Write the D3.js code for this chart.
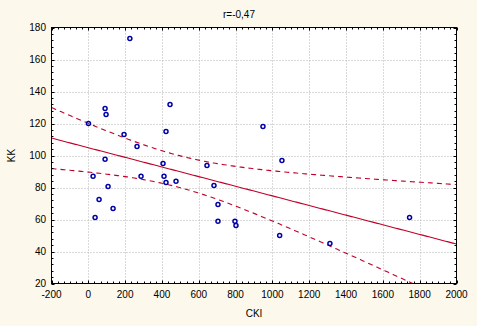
<!DOCTYPE html>
<html><head><meta charset="utf-8">
<script src="https://cdn.jsdelivr.net/npm/d3@7"></script>
<style>html,body{margin:0;padding:0;background:#fcf8ec;}svg{display:block;}</style>
</head><body>
<script>
const titleText = "r=-0,47";
const xLabel = "CKI";
const yLabel = "KK";
const xTicks = [-200,0,200,400,600,800,1000,1200,1400,1600,1800,2000];
const yTicks = [20,40,60,80,100,120,140,160,180];
const cki = [225.6,91,96.4,443.8,0.8,194,422,264.6,91,405.8,25.8,286.3,411.2,422,476.3,107.3,58.4,134.4,36.7,644.6,1051.7,682.6,704.3,704.3,796.6,802,1039.4,1312.3,948.7,1745];
const kk  = [173.1,129.4,125.6,131.9,120,113.1,115,105.6,97.7,95,87.1,87.1,87.1,83.1,83.9,80.6,72.5,66.9,61.25,93.75,96.9,81.25,69.4,58.9,58.9,56.25,50,45,118.1,61.25];

const W = 477, H = 326;
const L = 51.5, R = 456.5, T = 27.5, B = 283.5;
const svg = d3.select("body").append("svg").attr("width", W).attr("height", H);
svg.append("rect").attr("width", W).attr("height", H).attr("fill", "#fcf8ec");

const x = d3.scaleLinear().domain([-200, 2000]).range([L, R]);
const y = d3.scaleLinear().domain([20, 180]).range([B, T]);

svg.append("rect").attr("x", L).attr("y", T).attr("width", R - L).attr("height", B - T).attr("fill", "#fff");

// grid
const grid = svg.append("g").attr("stroke", "#b4b4b4").attr("stroke-dasharray", "1,2").attr("stroke-width", 1);
xTicks.slice(1, -1).forEach(v => grid.append("line").attr("x1", Math.round(x(v)) + 0.5).attr("x2", Math.round(x(v)) + 0.5).attr("y1", T).attr("y2", B));
yTicks.slice(1, -1).forEach(v => grid.append("line").attr("y1", Math.round(y(v)) + 0.5).attr("y2", Math.round(y(v)) + 0.5).attr("x1", L).attr("x2", R));

// regression + 95% CI
const n = cki.length;
const mx = d3.mean(cki), my = d3.mean(kk);
let sxx = 0, sxy = 0;
for (let i = 0; i < n; i++) { sxx += (cki[i] - mx) ** 2; sxy += (cki[i] - mx) * (kk[i] - my); }
const b = sxy / sxx, a = my - b * mx;
let sse = 0;
for (let i = 0; i < n; i++) sse += (kk[i] - a - b * cki[i]) ** 2;
const s = Math.sqrt(sse / (n - 2));
const tcrit = 2.048;
const xs = d3.range(-200, 2000.1, 10);
const fit = v => a + b * v;
const hw = v => tcrit * s * Math.sqrt(1 / n + (v - mx) ** 2 / sxx);

svg.append("clipPath").attr("id", "clip").append("rect").attr("x", L).attr("y", T).attr("width", R - L).attr("height", B - T);
const lines = svg.append("g").attr("clip-path", "url(#clip)").attr("fill", "none").attr("stroke", "#c00028").attr("stroke-width", 1.1);
const lg = f => d3.line().x(v => x(v)).y(v => y(f(v)))(xs);
lines.append("path").attr("d", lg(fit));
lines.append("path").attr("d", lg(v => fit(v) + hw(v))).attr("stroke-dasharray", "5,4");
lines.append("path").attr("d", lg(v => fit(v) - hw(v))).attr("stroke-dasharray", "5,4");

// points
svg.append("g").selectAll("circle").data(cki).join("circle")
  .attr("cx", (d, i) => x(d)).attr("cy", (d, i) => y(kk[i])).attr("r", 2)
  .attr("fill", "none").attr("stroke", "#0000a8").attr("stroke-width", 1.5);

// frame
svg.append("rect").attr("x", L).attr("y", T).attr("width", R - L).attr("height", B - T).attr("fill", "none").attr("stroke", "#000");

// ticks (inward)
const tk = svg.append("g").attr("stroke", "#000").attr("stroke-width", 1);
const xMinor = [];
for (let i = 0; i < xTicks.length - 1; i++) for (let j = 1; j < 6; j++) xMinor.push(xTicks[i] + j * (xTicks[i + 1] - xTicks[i]) / 6);
const yMinor = [];
for (let i = 0; i < yTicks.length - 1; i++) for (let j = 1; j < 5; j++) yMinor.push(yTicks[i] + j * (yTicks[i + 1] - yTicks[i]) / 5);
const xt = (v, len) => {
  const px = Math.round(x(v)) + 0.5;
  tk.append("line").attr("x1", px).attr("x2", px).attr("y1", B).attr("y2", B - len);
  tk.append("line").attr("x1", px).attr("x2", px).attr("y1", T).attr("y2", T + len);
};
const yt = (v, len) => {
  const py = Math.round(y(v)) + 0.5;
  tk.append("line").attr("y1", py).attr("y2", py).attr("x1", L).attr("x2", L + len);
  tk.append("line").attr("y1", py).attr("y2", py).attr("x1", R).attr("x2", R - len);
};
xMinor.forEach(v => xt(v, 2)); xTicks.forEach(v => xt(v, 3));
yMinor.forEach(v => yt(v, 2)); yTicks.forEach(v => yt(v, 3));

// labels
const font = "'Liberation Sans', Arial, sans-serif";
const tx = svg.append("g").attr("font-family", font).attr("font-size", "10px").attr("fill", "#000");
xTicks.forEach(v => tx.append("text").attr("x", x(v)).attr("y", B + 14.5).attr("text-anchor", "middle").text(v));
yTicks.forEach(v => tx.append("text").attr("x", L - 5.5).attr("y", y(v) + 3.5).attr("text-anchor", "end").text(v));
tx.append("text").attr("x", 239).attr("y", 17.5).attr("text-anchor", "middle").text(titleText);
tx.append("text").attr("x", 254).attr("y", 317).attr("text-anchor", "middle").text(xLabel);
tx.append("text").attr("transform", "translate(14.5,155.5) rotate(-90)").attr("text-anchor", "middle").text(yLabel);
</script>
</body></html>
